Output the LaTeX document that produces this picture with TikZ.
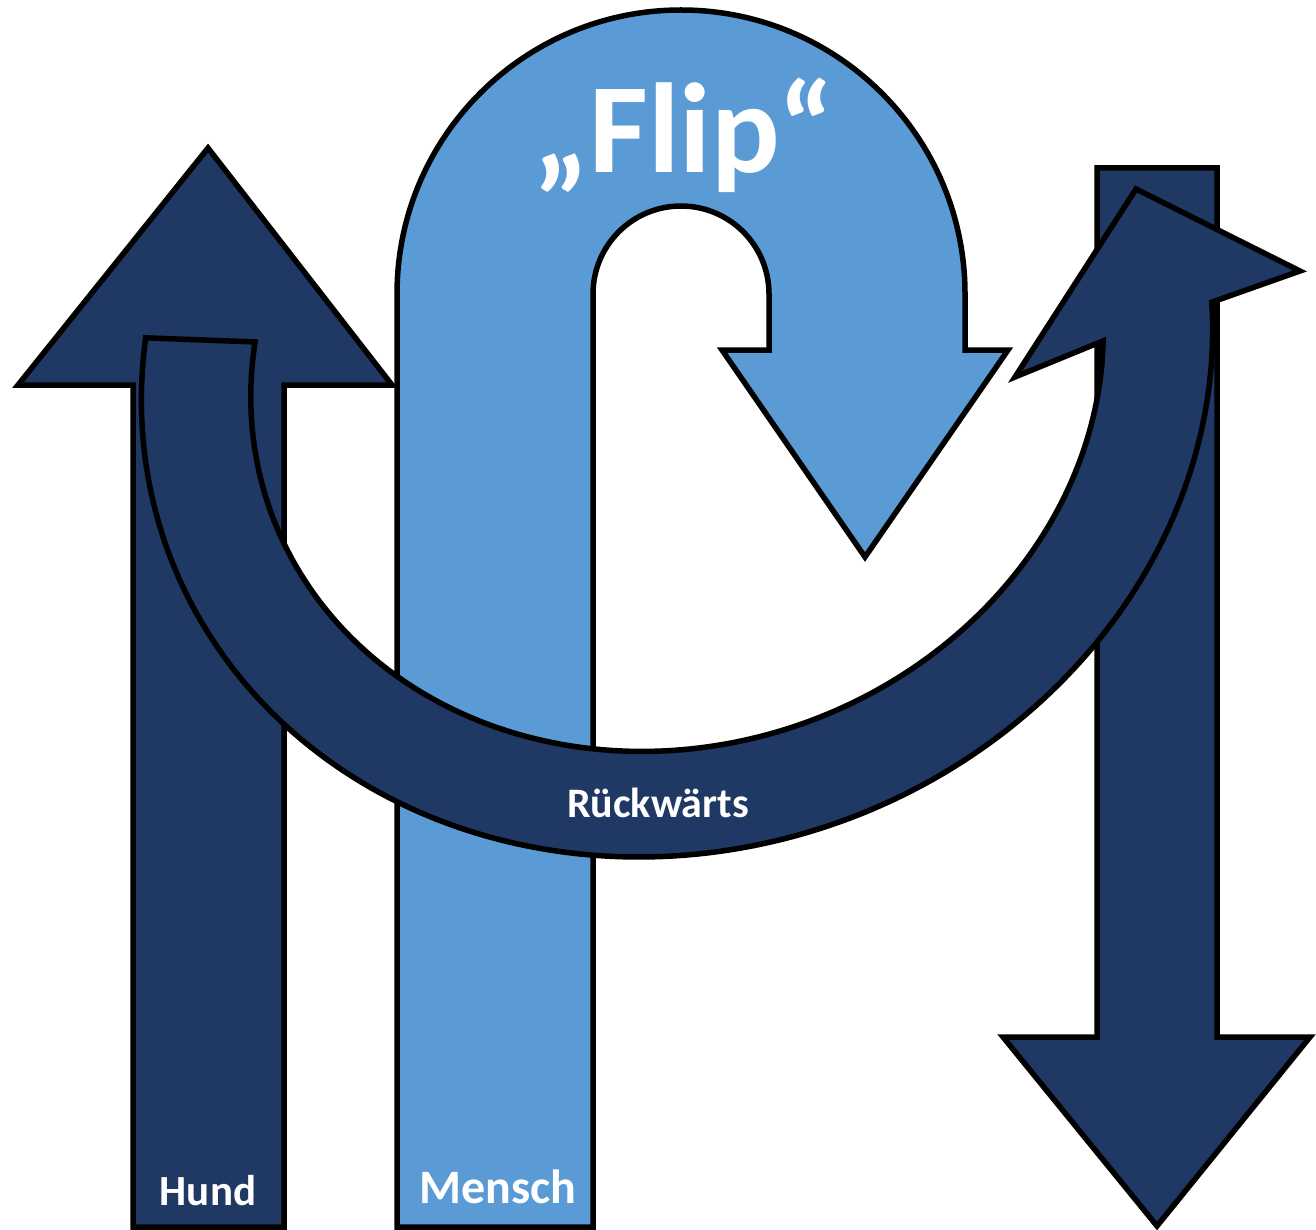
\documentclass[tikz,border=0pt]{standalone}
\usepackage{fontspec}
\setmainfont{Carlito}
\definecolor{navy}{HTML}{1F3864}
\definecolor{lightblue}{HTML}{5B9BD5}
\tikzset{
  shape outline/.style={draw=black, line width=5.5pt, line join=miter},
  darkshape/.style={shape outline, fill=navy},
  lightshape/.style={shape outline, fill=lightblue},
  label text/.style={text=white, font=\bfseries, inner sep=0pt, anchor=base}
}
\begin{document}
\begin{tikzpicture}[x=1pt, y=-1pt]
\useasboundingbox (0,0) rectangle (1316,1230);
% Hund arrow (up)
\draw[darkshape] (133,1227) -- (133,385) -- (18,385) -- (208,148) -- (392,385) -- (284,385) -- (284,1227) -- cycle;
% Mensch U-turn arrow
\draw[lightshape] (397,1227) -- (397,294) arc[start angle=180, end angle=360, radius=284]
  -- (965,350) -- (1008,350) -- (865,557) -- (722,350) -- (769,350) -- (769,294)
  arc[start angle=0, end angle=-180, radius=88] -- (593,1227) -- cycle;
% right arrow (down)
\draw[darkshape] (1097,168) -- (1217,168) -- (1217,1037) -- (1310,1037) -- (1157,1226) -- (1003,1037) -- (1097,1037) -- cycle;
% Rueckwaerts curved arrow (tilted elliptic ring)
\draw[darkshape]
  plot[domain=205.3:14.8, samples=160]
    ({677 + 542*cos(\x)*cos(-20) - 485*sin(\x)*sin(-20)},
     {365 + 542*cos(\x)*sin(-20) + 485*sin(\x)*cos(-20)})
  -- (1300,271) -- (1136,189) -- (1015,377)
  -- plot[domain=18.9:205.9, samples=160]
    ({677 + 432*cos(\x)*cos(-20) - 380*sin(\x)*sin(-20)},
     {365 + 432*cos(\x)*sin(-20) + 380*sin(\x)*cos(-20)})
  -- cycle;
% texts
\node[label text, font=\bfseries\fontsize{128}{128}\selectfont] (flip) at (684,173) {„Flip“};
\node[label text, font=\bfseries\fontsize{42}{42}\selectfont] (rueck) at (658,817) {Rückwärts};
\node[label text, font=\bfseries\fontsize{43}{43}\selectfont] (hund) at (208,1205) {Hund};
\node[label text, font=\bfseries\fontsize{48}{48}\selectfont] (mensch) at (498,1203) {Mensch};
\end{tikzpicture}
\end{document}
